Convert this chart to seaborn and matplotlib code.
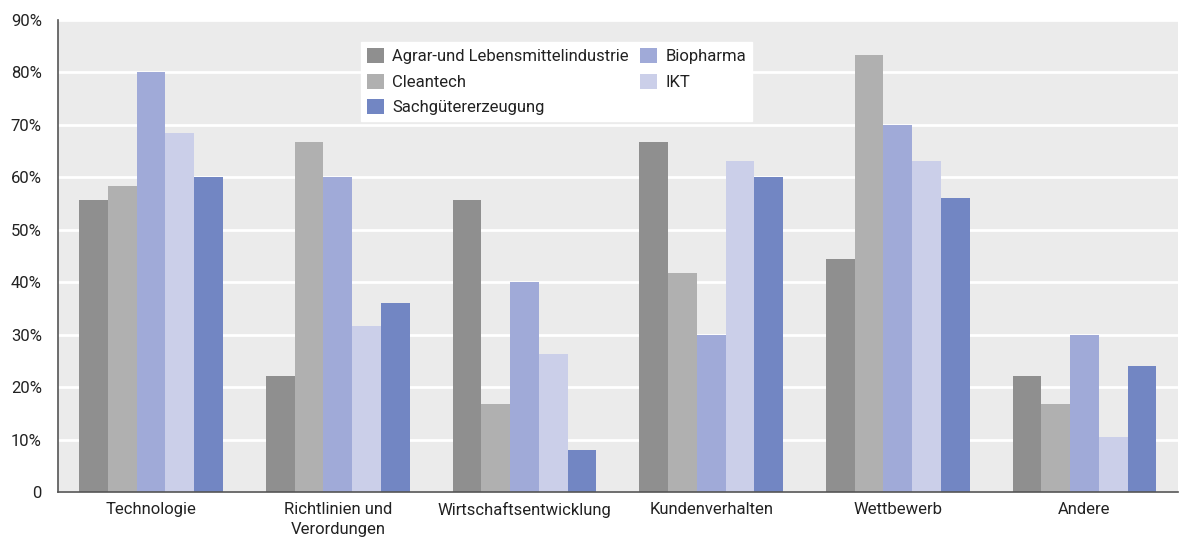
import pandas as pd
import matplotlib.pyplot as plt
import matplotlib.ticker as mticker
import seaborn as sns

categories = ["Technologie", "Richtlinien und\nVerordungen", "Wirtschaftsentwicklung",
              "Kundenverhalten", "Wettbewerb", "Andere"]
series = ["Agrar-und Lebensmittelindustrie", "Cleantech", "Biopharma", "IKT",
          "Sachgütererzeugung"]
agrar = [55.6, 22.2, 55.6, 66.7, 44.4, 22.2]
cleantech = [58.3, 66.7, 16.7, 41.7, 83.3, 16.7]
biopharma = [80.0, 60.0, 40.0, 30.0, 70.0, 30.0]
ikt = [68.4, 31.6, 26.3, 63.2, 63.2, 10.5]
sach = [60.0, 36.0, 8.0, 60.0, 56.0, 24.0]
colors = ["#8f8f8f", "#b0b0b0", "#a0aad8", "#cbcfe9", "#7286c3"]

rows = []
for name, vals in zip(series, [agrar, cleantech, biopharma, ikt, sach]):
    for cat, v in zip(categories, vals):
        rows.append({"Kategorie": cat, "Branche": name, "Wert": v})
df = pd.DataFrame(rows)

sns.set_style("white")
plt.rcParams["font.family"] = ["Roboto", "DejaVu Sans"]

fig, ax = plt.subplots(figsize=(11.79, 5.40), dpi=100)
fig.subplots_adjust(left=0.049, right=0.999, top=0.963, bottom=0.089)

sns.barplot(data=df, x="Kategorie", y="Wert", hue="Branche", order=categories,
            hue_order=series, palette=colors, width=0.77, ax=ax, saturation=1,
            edgecolor="none")

ax.set_facecolor("#ebebeb")
ax.set_ylim(0, 90)
ax.set_xlim(-0.5, 5.5)
ax.yaxis.set_major_locator(mticker.MultipleLocator(10))
ax.yaxis.set_major_formatter(mticker.FuncFormatter(lambda v, p: "0" if v == 0 else f"{v:.0f}%"))
ax.grid(axis="y", color="white", linewidth=2)
ax.set_axisbelow(True)
for s in ["top", "right"]:
    ax.spines[s].set_visible(False)
for s in ["left", "bottom"]:
    ax.spines[s].set_color("#555555")
    ax.spines[s].set_linewidth(1.2)

ax.set_xlabel("")
ax.set_ylabel("")
ax.tick_params(axis="x", which="major", length=0, labelsize=12, pad=7, colors="#222222")
for lab in ax.get_xticklabels():
    lab.set_linespacing(1.45)
ax.set_xticks([i - 0.5 for i in range(7)], minor=True)
ax.tick_params(axis="x", which="minor", length=8, color="#555555", width=1.2)
ax.tick_params(axis="y", length=8, color="#555555", width=1.2, labelsize=12, colors="#222222")

handles, labels = ax.get_legend_handles_labels()
idx = [0, 1, 4, 2, 3]
leg = ax.legend([handles[i] for i in idx], [labels[i] for i in idx], ncol=2,
                loc="upper left", bbox_to_anchor=(0.2635, 0.97), frameon=True,
                fancybox=False, edgecolor="white", framealpha=1, fontsize=12,
                handlelength=1.0, handleheight=1.0, columnspacing=0.7,
                handletextpad=0.5, labelspacing=0.55, borderpad=0.35)
for t in leg.get_texts():
    t.set_color("#222222")

fig.savefig("out.png", dpi=100)
